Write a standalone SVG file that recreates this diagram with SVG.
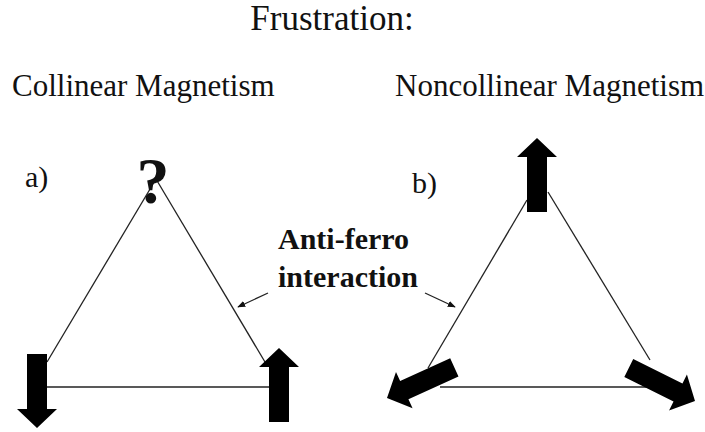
<svg xmlns="http://www.w3.org/2000/svg" width="705" height="432" viewBox="0 0 705 432">
<style>
text{font-family:"Liberation Serif","Times New Roman",serif;fill:#111}
.t{font-size:35px}
.s{font-size:31px}
.lb{font-size:30px}
.b{font-weight:bold}
.ln{stroke:#222;stroke-width:1.3;fill:none}
.spin{fill:#000}
</style>
<defs>
<path id="arr" d="M0,0 L20,19 L10,19 L10,74 L-10,74 L-10,19 L-20,19 Z"/>
<marker id="ah" viewBox="0 0 10 10" refX="9" refY="5" markerWidth="8" markerHeight="8" markerUnits="userSpaceOnUse" orient="auto"><path d="M0,1 L10,5 L0,9 Z" fill="#111"/></marker>
</defs>
<rect width="705" height="432" fill="#fff"/>
<g id="title"><text class="t" x="332" y="30" text-anchor="middle">Frustration:</text></g>
<g id="label-collinear"><text class="s" x="12" y="96">Collinear Magnetism</text></g>
<g id="label-noncollinear"><text class="s" x="395" y="96">Noncollinear Magnetism</text></g>
<g id="label-a"><text class="lb" x="25" y="187">a)</text></g>
<g id="label-b"><text class="lb" x="412" y="193">b)</text></g>
<g id="annotation"><text class="lb b" x="278" y="249" font-size="30.5">Anti-ferro</text><text class="lb b" x="278" y="287" font-size="30.5">interaction</text></g>
<g id="connectors">
<line class="ln" x1="156" y1="179" x2="47" y2="362"/>
<line class="ln" x1="156" y1="179" x2="265" y2="362"/>
<line class="ln" x1="47" y1="387" x2="270" y2="387"/>
<line class="ln" x1="527" y1="200" x2="428" y2="368"/>
<line class="ln" x1="548" y1="192" x2="650" y2="360"/>
<line class="ln" x1="440" y1="387" x2="647" y2="387"/>
<line class="ln" x1="268" y1="293" x2="238" y2="307" marker-end="url(#ah)" stroke-width="1.2"/>
<line class="ln" x1="425" y1="293" x2="455" y2="307" marker-end="url(#ah)" stroke-width="1.2"/>
</g>
<g id="spin-a-top"><text class="b" x="153" y="203" font-size="66" text-anchor="middle">?</text></g>
<g id="spin-a-left"><use href="#arr" class="spin" transform="translate(37,428) rotate(180)"/></g>
<g id="spin-a-right"><use href="#arr" class="spin" transform="translate(279,348)"/></g>
<g id="spin-b-top"><use href="#arr" class="spin" transform="translate(537,138)"/></g>
<g id="spin-b-left"><use href="#arr" class="spin" transform="translate(387,398) rotate(-114.5)"/></g>
<g id="spin-b-right"><use href="#arr" class="spin" transform="translate(695,401) rotate(116.5)"/></g>
</svg>
